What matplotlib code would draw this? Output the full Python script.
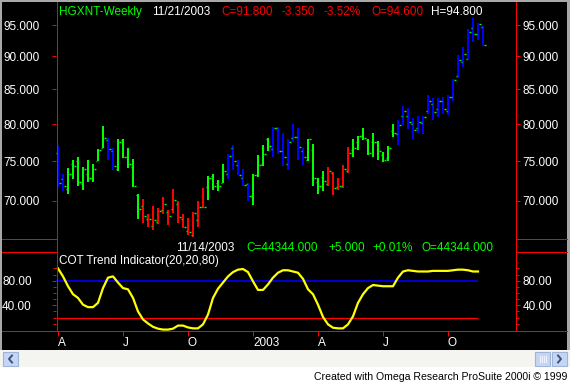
import matplotlib
matplotlib.use("Agg")
import matplotlib.pyplot as plt
import numpy as np
import pandas as pd
from matplotlib.lines import Line2D
from matplotlib.patches import Rectangle
from matplotlib.ticker import NullLocator, FixedLocator

plt.rcParams['font.family'] = ['Liberation Sans', 'DejaVu Sans']

# weekly copper bars (HGXNT), first bar 4/5/2002, last 11/21/2003
first_week = '2002-04-05'
opens = [76.1, 72.7, 71.5, 74.7, 75.0, 72.1, 73.3, 72.8, 75.0, 76.7,
         77.8, 76.3, 74.0, 77.8, 75.5, 74.3, 70.7, 69.4, 67.8, 67.0,
         67.5, 68.9, 68.7, 69.0, 69.6, 67.8, 66.4, 66.0, 67.7, 69.3,
         71.7, 73.1, 72.2, 72.2, 73.3, 76.7, 74.5, 72.8, 72.1, 70.6,
         73.2, 74.6, 77.9, 76.6, 79.5, 76.3, 74.7, 78.1, 78.2, 76.3,
         75.1, 76.5, 72.4, 73.0, 72.1, 73.5, 71.7, 71.8, 73.7, 76.5,
         77.6, 78.4, 77.8, 77.6, 77.6, 75.8, 75.4, 79.0, 78.6, 81.1,
         81.1, 80.0, 79.4, 80.2, 81.9, 82.9, 82.1, 83.3, 81.8, 83.9,
         87.0, 89.1, 89.5, 94.5, 93.5, 94.6]
highs = [77.2, 73.3, 74.1, 75.2, 75.5, 74.3, 75.2, 74.6, 76.6, 79.7,
         78.1, 76.7, 77.9, 77.9, 76.7, 75.3, 70.8, 70.2, 68.4, 69.4,
         69.2, 70.5, 68.9, 71.5, 70.0, 68.4, 68.0, 68.7, 70.0, 71.6,
         73.1, 73.4, 72.6, 74.7, 75.9, 77.2, 75.2, 74.0, 72.2, 73.4,
         75.8, 77.1, 78.1, 79.6, 79.6, 78.7, 77.9, 80.0, 79.4, 76.8,
         78.0, 77.3, 72.8, 73.7, 74.3, 73.6, 72.8, 74.5, 76.9, 77.9,
         78.4, 79.5, 77.9, 78.8, 77.7, 76.2, 77.0, 80.0, 80.6, 82.6,
         82.2, 80.8, 81.1, 81.1, 84.1, 83.7, 83.7, 83.9, 84.1, 86.5,
         90.2, 91.5, 94.3, 96.1, 95.4, 94.8]
lows = [71.7, 71.2, 70.9, 72.7, 71.9, 71.3, 72.4, 72.3, 75.0, 76.7,
        75.2, 73.9, 73.8, 75.4, 74.1, 71.7, 67.9, 67.4, 66.9, 66.6,
        67.2, 68.4, 67.1, 68.6, 67.4, 66.8, 66.0, 65.8, 66.9, 69.2,
        70.1, 71.4, 71.2, 72.2, 72.7, 73.9, 73.2, 71.8, 70.0, 69.5,
        73.0, 74.4, 76.3, 75.5, 76.0, 74.4, 73.9, 77.6, 75.2, 74.5,
        75.0, 71.8, 70.9, 71.2, 71.9, 70.7, 71.3, 71.6, 73.5, 75.6,
        76.5, 77.8, 75.8, 75.6, 75.2, 74.9, 75.0, 78.2, 77.1, 79.8,
        79.3, 78.0, 78.8, 78.6, 81.4, 80.6, 81.0, 81.4, 81.3, 83.2,
        86.7, 88.3, 89.4, 92.2, 92.5, 91.6]
closes = [72.2, 71.8, 73.3, 74.4, 72.4, 74.0, 72.9, 74.0, 76.5, 78.1,
          76.6, 74.4, 77.5, 75.5, 74.6, 71.8, 69.0, 68.2, 67.9, 67.7,
          68.8, 69.6, 68.2, 70.1, 68.1, 66.9, 66.3, 68.5, 69.3, 69.3,
          72.9, 71.8, 71.9, 73.7, 75.7, 75.0, 73.2, 72.0, 70.6, 73.2,
          74.5, 75.9, 77.0, 79.5, 76.3, 75.6, 77.6, 78.2, 76.9, 75.5,
          77.9, 72.9, 71.8, 72.5, 73.8, 71.6, 71.8, 74.0, 76.1, 76.7,
          78.3, 78.1, 76.1, 77.6, 76.4, 75.1, 76.8, 78.8, 79.9, 81.9,
          80.3, 79.2, 80.3, 81.0, 83.3, 81.7, 83.2, 82.1, 83.9, 86.4,
          89.4, 90.4, 93.8, 93.5, 95.15, 91.8]

# COT Trend Indicator(20,20,80), it ends one week before the price bars
cot = [100, 87, 71, 58, 52, 41, 37, 37, 44, 68,
       85, 87, 77, 68, 66, 52, 30, 17, 10.5, 5,
       2, 0.5, 0.5, 2, 7, 7, 4, 2.5, 2.5, 9,
       25, 52, 67, 77, 87, 94, 98, 99, 94, 79,
       65, 65, 74, 85, 93, 97, 97, 95, 93, 83,
       66, 58, 41, 21, 9, 3.5, 2.5, 2.5, 9, 22,
       44, 58, 68, 73, 72, 71, 71, 71, 85, 95,
       97, 96, 95, 95, 95, 96, 96, 96, 96, 97,
       98, 98, 97, 95, 95]
cot_close, cot_change, cot_open = 44344.0, 5.0, 44344.0

price_ticks = [70, 75, 80, 85, 90, 95]
cot_ticks = [40, 80]
cot_minor = list(range(10, 101, 10))
hi_level, lo_level = 80, 20

W, H = 570, 382
GREEN, BLUE, RED, YELLOW = '#00ff00', '#0000ff', '#ff0000', '#ffff00'
FS = 8.5
PX = 0.72  # one pixel in points

dates = pd.date_range(first_week, periods=len(closes), freq='W-FRI')
x = np.arange(len(closes))

# bar colour follows the indicator: above 80 blue, below 20 red, else green
lvl = cot + cot[-1:]
bar_cols = [BLUE if v > hi_level else RED if v < lo_level else GREEN for v in lvl]

# quarter marks on first bar of Jan/Apr/Jul/Oct
q_pos, q_lab = [], []
for i, d in enumerate(dates):
    if d.month in (1, 4, 7, 10) and (i == 0 or dates[i - 1].month != d.month):
        q_pos.append(i)
        q_lab.append(str(d.year) if d.month == 1 else d.strftime('%b')[0])

fig = plt.figure(figsize=(W / 100, H / 100), dpi=100, facecolor='white')


def box(x0, y0, x1, y1):
    return [x0 / W, 1 - y1 / H, (x1 - x0) / W, (y1 - y0) / H]


def frect(x0, y0, x1, y1, fc, ec='none', z=-2):
    fig.add_artist(Rectangle((x0 / W, 1 - y1 / H), (x1 - x0) / W, (y1 - y0) / H,
                             transform=fig.transFigure, fc=fc, ec=ec, lw=0.8, zorder=z))


def fline(xs, ys, color=RED, lw=PX, z=5):
    fig.add_artist(Line2D([v / W for v in xs], [1 - v / H for v in ys],
                          transform=fig.transFigure, color=color, lw=lw, zorder=z))


def ftext(x0, y0, s, color='white', size=FS, **kw):
    fig.text(x0 / W, 1 - y0 / H, s, color=color, fontsize=size, va='baseline', zorder=6, **kw)


# window background
frect(0, 0, W, 350, '#a8a8a8', z=-3)
frect(2, 2, 567, 350, 'black')
frect(0, 350, W, 367, '#f4f4f0')
frect(3, 352, 18, 366, '#c6d5f4', ec='#9fb4d9')
frect(535, 352, 550, 366, '#c6d5f4', ec='#9fb4d9')
frect(552, 352, 567, 366, '#c6d5f4', ec='#9fb4d9')
fline([12, 9, 12], [355.5, 359, 362.5], color='#3d5280', lw=1.4, z=-1)
fline([558, 561, 558], [355.5, 359, 362.5], color='#3d5280', lw=1.4, z=-1)
for gx in (539.5, 541.5, 543.5, 545.5):
    fline([gx, gx], [356, 362], color='#eef3ff', lw=0.8, z=-1)

# price panel
ax = fig.add_axes(box(56, 2, 516, 239), facecolor='black')
ax.set_yscale('log')
ax.vlines(x, lows, highs, colors=bar_cols, lw=2 * PX)
ax.hlines(opens, x - 0.5, x - 0.2, colors=GREEN, lw=1.4 * PX)
ax.hlines(closes, x + 0.2, x + 0.5, colors=GREEN, lw=1.4 * PX)
ax.set_xlim(-0.4, 91.6)
ax.set_xticks([])

ax_r = ax.twinx()
for a, pad in ((ax, 8.6), (ax_r, 1.5)):
    a.set_yscale('log')
    a.set_ylim(65.53, 98.87)
    a.set_yticks(price_ticks, [f'{v:.3f}' for v in price_ticks])
    a.yaxis.set_minor_locator(NullLocator())
    a.tick_params(axis='y', length=3, width=PX, color=RED, labelcolor='white',
                  labelsize=FS, pad=pad)

# indicator panel
axi = fig.add_axes(box(56, 252, 516, 331), facecolor='black')
xi = np.arange(len(cot))
axi.hlines([hi_level], -0.4, xi[-1], color=BLUE, lw=1.6 * PX)
axi.hlines([lo_level], -0.4, xi[-1], color=RED, lw=1.3 * PX)
axi.plot(xi, cot, color=YELLOW, lw=1.6)
axi.set_xlim(-0.4, 91.6)
axi.set_xticks(q_pos, q_lab)
plt.setp(axi.get_xticklabels(), ha='left')
axi.tick_params(axis='x', length=3.6, width=PX, color=RED, labelcolor='white',
                labelsize=FS, pad=0.5)

axi_r = axi.twinx()
for a, pad in ((axi, 14.4), (axi_r, 1.5)):
    a.set_ylim(-1.8, 126.7)
    a.set_yticks(cot_ticks, [f'{v:.2f}' for v in cot_ticks])
    a.yaxis.set_minor_locator(FixedLocator(cot_minor))
    a.tick_params(axis='y', which='major', length=3, width=PX, color=RED,
                  labelcolor='white', labelsize=FS, pad=pad)
    a.tick_params(axis='y', which='minor', length=2.2, width=PX, color=RED)

for a in (ax, ax_r, axi, axi_r):
    for s in a.spines.values():
        s.set_visible(False)

# red frame lines
fline([56.5, 56.5], [2, 331])
fline([516, 516], [2, 331])
for yy in (239, 252):
    fline([2, 56.5], [yy, yy])
    fline([516, 567], [yy, yy])
fline([2, 567], [331, 331])

# header of price panel
chg = closes[-1] - closes[-2]
pct = chg / closes[-2] * 100
ftext(59, 15.3, 'HGXNT-Weekly', GREEN)
ftext(152, 15.3, dates[-1].strftime('%m/%d/%Y'))
ftext(221, 15.3, f'C={closes[-1]:.3f}', RED)
ftext(282, 15.3, f'{chg:.3f}', RED)
ftext(323, 15.3, f'{pct:.2f}%', RED)
ftext(371, 15.3, f'O={opens[-1]:.3f}', RED)
ftext(431, 15.3, f'H={highs[-1]:.3f}')

# header of indicator panel
cpct = cot_change / (cot_close - cot_change) * 100
ftext(176, 250.8, dates[len(cot) - 1].strftime('%m/%d/%Y'))
ftext(246, 250.8, f'C={cot_close:.3f}', GREEN)
ftext(328, 250.8, f'{cot_change:+.3f}', GREEN)
ftext(372, 250.8, f'{cpct:+.2f}%', GREEN)
ftext(422, 250.8, f'O={cot_open:.3f}', GREEN)
ftext(59, 264.2, f'COT Trend Indicator({lo_level},{lo_level},{hi_level})')

ftext(567, 379.5, 'Created with Omega Research ProSuite 2000i \u00a9 1999', 'black',
      size=7.6, ha='right')

fig.savefig('out.png', dpi=100, facecolor=fig.get_facecolor())
